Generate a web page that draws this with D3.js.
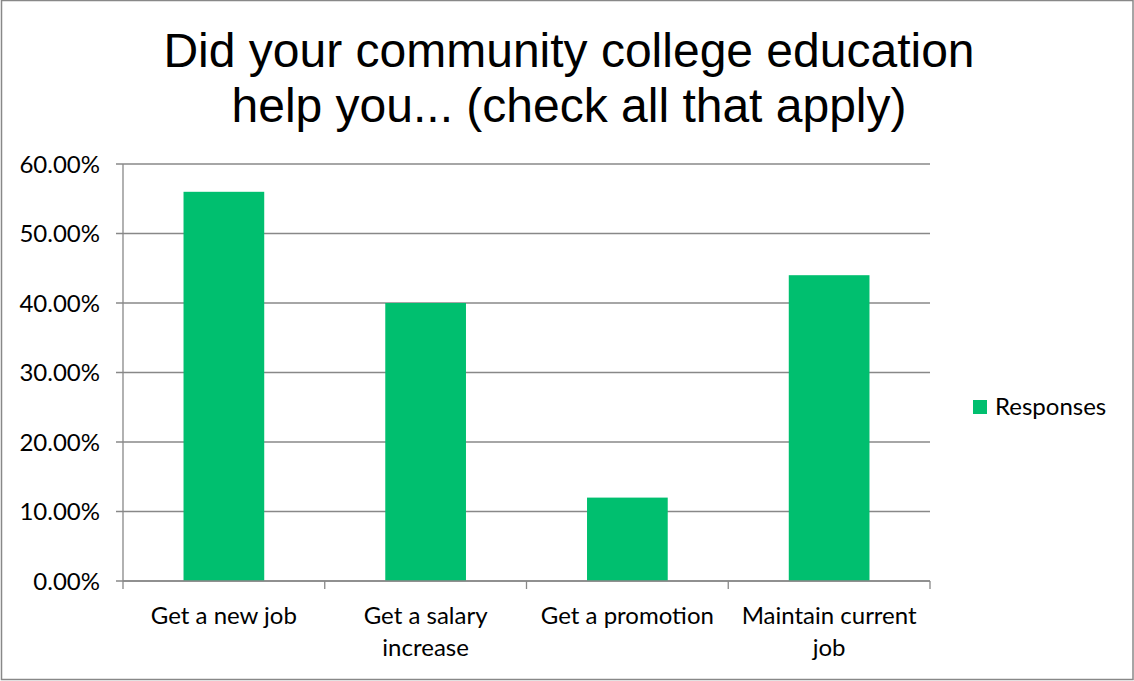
<!DOCTYPE html>
<html><head><meta charset="utf-8">
<script src="https://cdn.jsdelivr.net/npm/d3@7"></script>
<style>body{margin:0;background:#fff}svg{display:block}</style>
</head><body>
<svg id="c" width="1134" height="681"></svg>
<script>
const titleLines = ["Did your community college education", "help you... (check all that apply)"];
const categories = [["Get a new job"], ["Get a salary", "increase"], ["Get a promotion"], ["Maintain current", "job"]];
const values = [0.56, 0.40, 0.12, 0.44];
const yTicks = [0, 0.1, 0.2, 0.3, 0.4, 0.5, 0.6];
const seriesName = "Responses";

const svg = d3.select("#c");
const W = 1134, H = 681;
const L = 123, R = 930, T = 164, B = 581;
const green = "#00BF6F", grid = "#888888";
const labelFont = "Lato, 'Open Sans', sans-serif";

svg.append("rect").attr("x", 1.5).attr("y", 0.5).attr("width", W - 2.5).attr("height", H - 2)
  .attr("fill", "#fff").attr("stroke", "#888").attr("stroke-width", 1.5);

svg.append("g").selectAll("text").data(titleLines).join("text")
  .attr("x", 569).attr("y", (d, i) => 67 + i * 55)
  .attr("text-anchor", "middle").attr("font-family", "'Liberation Sans', Arial, sans-serif")
  .attr("font-size", 48).attr("fill", "#000").text(d => d);

const x = d3.scaleBand().domain(d3.range(categories.length)).range([L, R]).paddingInner(0.6).paddingOuter(0.3);
const xb = d3.scaleBand().domain(d3.range(categories.length)).range([L, R]);
const y = d3.scaleLinear().domain([0, 0.6]).range([B, T]);

svg.append("g").selectAll("line").data(yTicks).join("line")
  .attr("x1", L - 7).attr("x2", R).attr("y1", d => y(d)).attr("y2", d => y(d))
  .attr("stroke", grid).attr("stroke-width", 1.3);

svg.append("g").selectAll("text").data(yTicks).join("text")
  .attr("x", 100).attr("y", d => y(d) + 8.5).attr("text-anchor", "end")
  .attr("font-family", labelFont).attr("font-size", 24).attr("fill", "#000")
  .text(d => d3.format(".2%")(d));

svg.append("g").selectAll("rect").data(values).join("rect")
  .attr("x", (d, i) => x(i)).attr("width", x.bandwidth())
  .attr("y", d => y(d)).attr("height", d => B - y(d)).attr("fill", green);

svg.append("line").attr("x1", L).attr("x2", L).attr("y1", T).attr("y2", B).attr("stroke", grid).attr("stroke-width", 1.3);
svg.append("line").attr("x1", L).attr("x2", R).attr("y1", B).attr("y2", B).attr("stroke", grid).attr("stroke-width", 1.3);
const xt = d3.range(categories.length + 1).map(i => L + i * xb.step());
svg.append("g").selectAll("line").data(xt).join("line")
  .attr("x1", d => d).attr("x2", d => d).attr("y1", B).attr("y2", B + 8)
  .attr("stroke", grid).attr("stroke-width", 1.3);

const cg = svg.append("g").selectAll("text").data(categories).join("text")
  .attr("x", (d, i) => xb(i) + xb.bandwidth() / 2).attr("y", 624)
  .attr("text-anchor", "middle").attr("font-family", labelFont).attr("font-size", 24).attr("fill", "#000");
cg.selectAll("tspan").data(d => d).join("tspan")
  .attr("x", function() { return this.parentNode.getAttribute("x"); })
  .attr("dy", (d, i) => i === 0 ? 0 : 32).text(d => d);

svg.append("rect").attr("x", 973).attr("y", 400).attr("width", 14).attr("height", 14).attr("fill", green);
svg.append("text").attr("x", 995).attr("y", 415).attr("font-family", labelFont).attr("font-size", 24)
  .attr("fill", "#000").text(seriesName);
</script>
</body></html>
